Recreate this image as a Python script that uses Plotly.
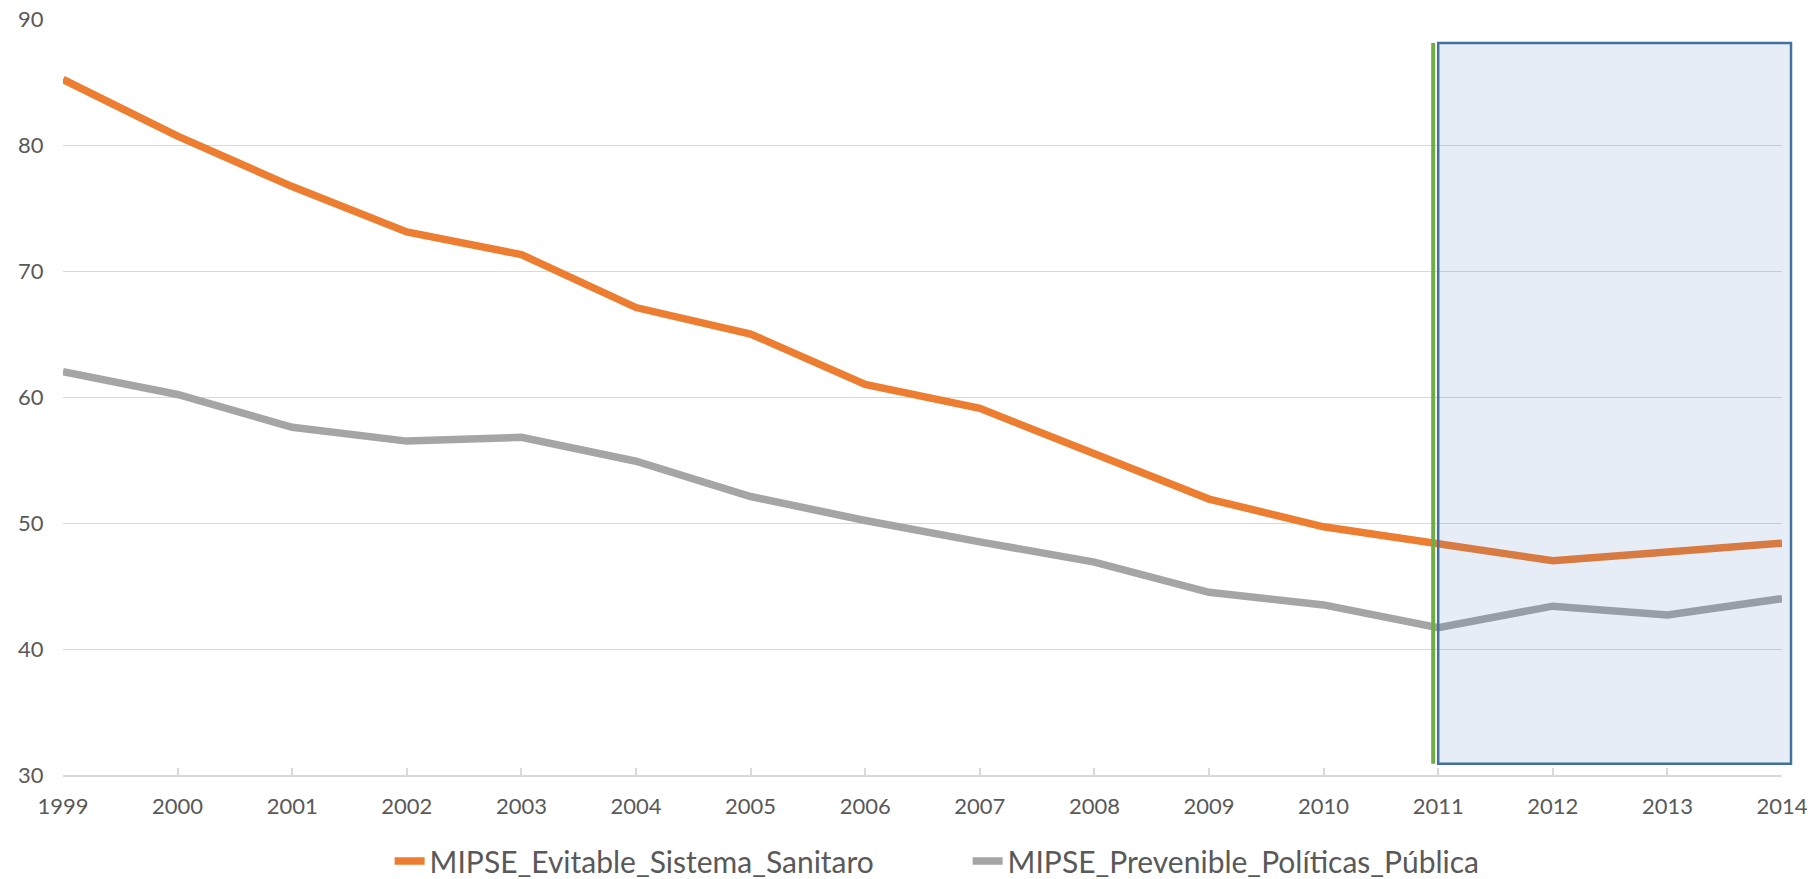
import plotly.graph_objects as go

years = list(range(1999, 2015))
evitable = [85.2, 80.7, 76.7, 73.1, 71.3, 67.1, 65.0, 61.0, 59.1, 55.5, 51.9, 49.7, 48.4, 47.0, 47.7, 48.4]
prevenible = [62.0, 60.2, 57.6, 56.5, 56.8, 54.9, 52.1, 50.2, 48.5, 46.9, 44.5, 43.5, 41.7, 43.4, 42.7, 44.0]
series_names = ["MIPSE_Evitable_Sistema_Sanitaro", "MIPSE_Prevenible_Políticas_Pública"]
y_ticks = [30, 40, 50, 60, 70, 80, 90]

# highlighted period
hl_start, hl_end = 2011, 2014
hl_low, hl_high = 30.9, 88.1

W, H = 1817, 879
ml, mr, mt, mb = 63, 35, 19, 104
plot_w = W - ml - mr

fig = go.Figure()
fig.add_trace(go.Scatter(x=years, y=evitable, mode="lines", name=series_names[0],
                         line=dict(color="#ED7D31", width=7.5)))
fig.add_trace(go.Scatter(x=years, y=prevenible, mode="lines", name=series_names[1],
                         line=dict(color="#A5A5A5", width=7.5)))

x_span = years[-1] - years[0]
# rectangle (slightly extends past the last category, as in the reference)
fig.add_shape(type="rect", xref="paper", yref="y",
              x0=(hl_start - years[0]) / x_span,
              x1=(hl_end - years[0]) / x_span + 9 / plot_w,
              y0=hl_low, y1=hl_high,
              fillcolor="rgba(68,114,196,0.13)",
              line=dict(color="#41719C", width=2.5), layer="above")
fig.add_shape(type="line", xref="paper", yref="y",
              x0=(hl_start - years[0]) / x_span - 5 / plot_w,
              x1=(hl_start - years[0]) / x_span - 5 / plot_w,
              y0=hl_low, y1=hl_high,
              line=dict(color="#70AD47", width=4), layer="above")

fig.update_layout(
    width=W, height=H,
    margin=dict(l=ml, r=mr, t=mt, b=mb, pad=0, autoexpand=False),
    paper_bgcolor="white", plot_bgcolor="white",
    font=dict(family="Lato, 'Open Sans', sans-serif", color="#595959", size=22),
    showlegend=True,
    legend=dict(orientation="h", x=0.19, xanchor="left", xref="paper",
                y=1 - 861 / H, yanchor="middle", yref="container",
                font=dict(size=30, color="#595959"), entrywidth=533,
                bgcolor="rgba(0,0,0,0)"),
)
fig.update_xaxes(range=[years[0], years[-1]], tickmode="array", tickvals=years,
                 ticktext=[str(y) for y in years],
                 showgrid=False, zeroline=False, showline=True, linecolor="#D9D9D9", linewidth=1.5,
                 ticks="inside", ticklen=7, tickcolor="#D9D9D9", tickwidth=1.5,
                 ticklabelstandoff=11,
                 tickfont=dict(size=22, color="#595959"))
fig.update_yaxes(range=[30, 90], tickvals=y_ticks, showgrid=True, gridcolor="#D9D9D9", gridwidth=1.3,
                 zeroline=False, showline=False, ticks="outside", ticklen=14, tickcolor="rgba(0,0,0,0)",
                 tickfont=dict(size=22, color="#595959"))

fig.write_html("out.html")
